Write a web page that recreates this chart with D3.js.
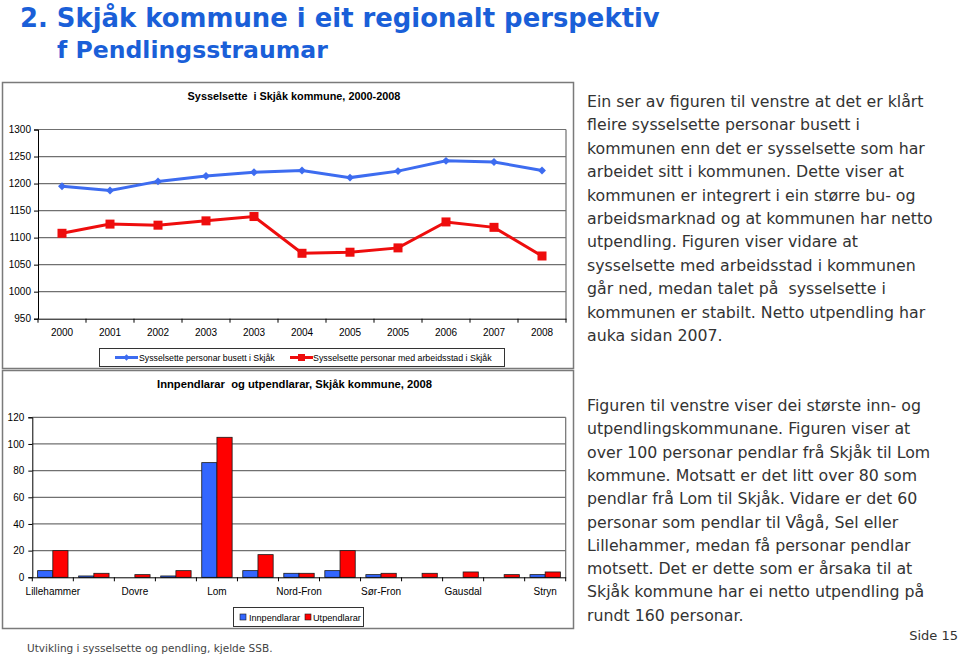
<!DOCTYPE html>
<html><head><meta charset="utf-8">
<script src="https://cdn.jsdelivr.net/npm/d3@7"></script>
<style>body{margin:0;background:#fff}svg{display:block}text{white-space:pre}</style>
</head><body>
<svg id="c" width="960" height="656"></svg>
<script>
// ---------- data ----------
const years = ["2000","2001","2002","2003","2003","2004","2005","2005","2006","2007","2008"];
const busett = [1195,1187,1204,1214,1221,1224,1211,1223,1242,1240,1224];
const arbeidsstad = [1108,1125,1123,1131,1139,1071,1073,1081,1129,1119,1066];
const lineTicks = [950,1000,1050,1100,1150,1200,1250,1300];
const lineSeriesNames = ["Sysselsette personar busett i Skjåk","Sysselsette personar med arbeidsstad i Skjåk"];

const kommunar = ["Lillehammer","Gjøvik","Dovre","Lesja","Lom","Vågå","Nord-Fron","Sel","Sør-Fron","Ringebu","Gausdal","Vang","Stryn"];
const shownLabels = ["Lillehammer","Dovre","Lom","Nord-Fron","Sør-Fron","Gausdal","Stryn"];
const innpendlarar = [5,1,0,1,86,5,3,5,2,0,0,0,2];
const utpendlarar = [20,3,2,5,105,17,3,20,3,3,4,2,4];
const barTicks = [0,20,40,60,80,100,120];
const barSeriesNames = ["Innpendlarar","Utpendlarar"];

const text1 = ["Ein ser av figuren til venstre at det er klårt","fleire sysselsette personar busett i","kommunen enn det er sysselsette som har","arbeidet sitt i kommunen. Dette viser at","kommunen er integrert i ein større bu- og","arbeidsmarknad og at kommunen har netto","utpendling. Figuren viser vidare at","sysselsette med arbeidsstad i kommunen","går ned, medan talet på  sysselsette i","kommunen er stabilt. Netto utpendling har","auka sidan 2007."];
const text2 = ["Figuren til venstre viser dei største inn- og","utpendlingskommunane. Figuren viser at","over 100 personar pendlar frå Skjåk til Lom","kommune. Motsatt er det litt over 80 som","pendlar frå Lom til Skjåk. Vidare er det 60","personar som pendlar til Vågå, Sel eller","Lillehammer, medan få personar pendlar","motsett. Det er dette som er årsaka til at","Skjåk kommune har ei netto utpendling på","rundt 160 personar."];

// ---------- helpers ----------
const svg = d3.select("#c");
const SANS = "'Liberation Sans', Arial, sans-serif";
const VERD = "'DejaVu Sans', Verdana, sans-serif";
function fit(sel, target){
  const w = sel.node().getComputedTextLength();
  const fs = parseFloat(sel.attr("font-size"));
  sel.attr("font-size", fs*target/w);
  return sel;
}

// ---------- headline ----------
const blue = "#1a5fd8";
fit(svg.append("text").attr("x",20).attr("y",27).attr("font-family",VERD).attr("font-weight","bold")
  .attr("font-size",24).attr("fill",blue).text("2. Skjåk kommune i eit regionalt perspektiv"), 640);
fit(svg.append("text").attr("x",57).attr("y",58).attr("font-family",VERD).attr("font-weight","bold")
  .attr("font-size",24).attr("fill",blue).text("f Pendlingsstraumar"), 271);

// ---------- right texts ----------
const g1 = svg.append("g");
g1.selectAll("text").data(text1).join("text")
  .attr("x",587).attr("y",(d,i)=>107+i*23.4).attr("font-family",VERD).attr("font-size",14.5)
  .attr("fill","#333").text(d=>d);
fit(g1.select("text"), 337);
const fs1 = g1.select("text").attr("font-size");
g1.selectAll("text").attr("font-size",fs1);

const g2 = svg.append("g");
g2.selectAll("text").data(text2).join("text")
  .attr("x",587).attr("y",(d,i)=>411+i*23.3).attr("font-family",VERD).attr("font-size",fs1)
  .attr("fill","#333").text(d=>d);

svg.append("text").attr("x",958).attr("y",640).attr("text-anchor","end").attr("font-family",VERD)
  .attr("font-size",13).attr("fill","#333").text("Side 15");
fit(svg.append("text").attr("x",27).attr("y",652).attr("font-family",VERD).attr("font-size",11.5)
  .attr("fill","#444").text("Utvikling i sysselsette og pendling, kjelde SSB."), 246);

// ---------- top line chart ----------
svg.append("rect").attr("x",2.5).attr("y",82.5).attr("width",571).attr("height",286)
  .attr("fill","none").attr("stroke","#7a7a7a").attr("stroke-width",1.5);
fit(svg.append("text").attr("x",294).attr("y",100).attr("text-anchor","middle").attr("font-family",SANS)
  .attr("font-weight","bold").attr("font-size",11).text("Sysselsette  i Skjåk kommune, 2000-2008"), 213);

const lx = d3.scaleBand().domain(d3.range(years.length)).range([38,566]);
const ly = d3.scaleLinear().domain([950,1300]).range([318.7,129.5]);
const gl = svg.append("g");
gl.selectAll("line.grid").data(lineTicks.slice(1)).join("line")
  .attr("x1",38).attr("x2",566).attr("y1",d=>ly(d)).attr("y2",d=>ly(d))
  .attr("stroke","#707070").attr("stroke-width",1.2);
gl.append("line").attr("x1",566).attr("x2",566).attr("y1",ly(1300)).attr("y2",ly(950)).attr("stroke","#707070").attr("stroke-width",1.2);
const yAx = gl.append("g").attr("transform","translate(38,0)")
  .call(d3.axisLeft(ly).tickValues(lineTicks).tickFormat(d3.format("d")).tickSize(4).tickPadding(3));
yAx.selectAll("text").attr("font-family",SANS).attr("font-size",10).attr("fill","#000");
const xAx = gl.append("g").attr("transform",`translate(0,${ly(950)})`)
  .call(d3.axisBottom(lx).tickSize(0).tickPadding(10).tickFormat(i=>years[i]));
xAx.selectAll("text").attr("font-family",SANS).attr("font-size",10).attr("fill","#000");
xAx.select(".domain").attr("stroke","#000");
yAx.select(".domain").attr("stroke","#000");
gl.selectAll("line.xt").data(d3.range(years.length+1)).join("line").attr("class","xt")
  .attr("x1",i=>38+i*lx.step()).attr("x2",i=>38+i*lx.step()).attr("y1",ly(950)).attr("y2",ly(950)+4)
  .attr("stroke","#000");

const cx = i=>lx(i)+lx.bandwidth()/2;
const lineGen = d3.line().x((d,i)=>cx(i)).y(d=>ly(d));
const cBlue = "#3d6cf0", cRed = "#ee0d0d";
gl.append("path").datum(busett).attr("d",lineGen).attr("fill","none").attr("stroke",cBlue).attr("stroke-width",3);
gl.append("path").datum(arbeidsstad).attr("d",lineGen).attr("fill","none").attr("stroke",cRed).attr("stroke-width",3);
gl.selectAll("path.dia").data(busett).join("path").attr("class","dia")
  .attr("d",d3.symbol(d3.symbolDiamond2,40)())
  .attr("transform",(d,i)=>`translate(${cx(i)},${ly(d)})`).attr("fill",cBlue);
gl.selectAll("rect.sq").data(arbeidsstad).join("rect").attr("class","sq")
  .attr("x",(d,i)=>cx(i)-4.5).attr("y",d=>ly(d)-4.5).attr("width",9).attr("height",9).attr("fill",cRed);

// legend top
svg.append("rect").attr("x",99.5).attr("y",348.5).attr("width",405).attr("height",18)
  .attr("fill","#fff").attr("stroke","#333").attr("stroke-width",1);
const lg = svg.append("g");
lg.append("line").attr("x1",115).attr("x2",138).attr("y1",357.5).attr("y2",357.5).attr("stroke",cBlue).attr("stroke-width",3);
lg.append("path").attr("d",d3.symbol(d3.symbolDiamond2,25)()).attr("transform","translate(126.5,357.5)").attr("fill",cBlue);
fit(lg.append("text").attr("x",139).attr("y",360.5).attr("font-family",SANS).attr("font-size",8.5).text(lineSeriesNames[0]),136);
lg.append("line").attr("x1",290).attr("x2",313).attr("y1",357.5).attr("y2",357.5).attr("stroke",cRed).attr("stroke-width",3);
lg.append("rect").attr("x",298).attr("y",354).attr("width",7).attr("height",7).attr("fill",cRed);
fit(lg.append("text").attr("x",313).attr("y",360.5).attr("font-family",SANS).attr("font-size",8.5).text(lineSeriesNames[1]),179);

// ---------- bottom bar chart ----------
svg.append("rect").attr("x",2.5).attr("y",370.5).attr("width",571).attr("height",258)
  .attr("fill","none").attr("stroke","#7a7a7a").attr("stroke-width",1.5);
fit(svg.append("text").attr("x",294.5).attr("y",388).attr("text-anchor","middle").attr("font-family",SANS)
  .attr("font-weight","bold").attr("font-size",11).text("Innpendlarar  og utpendlarar, Skjåk kommune, 2008"), 275);

const bx = d3.scaleBand().domain(d3.range(kommunar.length)).range([32.3,565.7]);
const by = d3.scaleLinear().domain([0,120]).range([577.3,417.3]);
const gb = svg.append("g");
gb.selectAll("line.grid").data(barTicks.slice(1)).join("line")
  .attr("x1",32.3).attr("x2",565.7).attr("y1",d=>by(d)).attr("y2",d=>by(d))
  .attr("stroke","#707070").attr("stroke-width",1.2);
gb.append("line").attr("x1",565.7).attr("x2",565.7).attr("y1",by(120)).attr("y2",by(0)).attr("stroke","#707070").attr("stroke-width",1.2);
const byAx = gb.append("g").attr("transform","translate(32.3,0)")
  .call(d3.axisLeft(by).tickValues(barTicks).tickFormat(d3.format("d")).tickSize(4).tickPadding(4));
byAx.selectAll("text").attr("font-family",SANS).attr("font-size",10).attr("fill","#000");

const inner = d3.scaleBand().domain([0,1]).range([0,bx.bandwidth()]).paddingOuter(0.35).paddingInner(0);
const bars = gb.append("g");
bars.selectAll("rect.in").data(innpendlarar).join("rect").attr("class","in")
  .attr("x",(d,i)=>bx(i)+inner(0)).attr("width",inner.bandwidth())
  .attr("y",d=>by(d)).attr("height",d=>by(0)-by(d))
  .attr("fill","#3366ff").attr("stroke","#1a1a1a").attr("stroke-width",d=>d>0?0.8:0);
bars.selectAll("rect.out").data(utpendlarar).join("rect").attr("class","out")
  .attr("x",(d,i)=>bx(i)+inner(1)).attr("width",inner.bandwidth())
  .attr("y",d=>by(d)).attr("height",d=>by(0)-by(d))
  .attr("fill","#ff0000").attr("stroke","#1a1a1a").attr("stroke-width",d=>d>0?0.8:0);

const bxAx = gb.append("g").attr("transform",`translate(0,${by(0)})`)
  .call(d3.axisBottom(bx).tickSize(0).tickPadding(11).tickFormat(i=>shownLabels.includes(kommunar[i])?kommunar[i]:""));
bxAx.selectAll("text").attr("font-family",SANS).attr("font-size",10).attr("fill","#000");
bxAx.select(".domain").attr("stroke","#000");
byAx.select(".domain").attr("stroke","#000");
gb.selectAll("line.xt").data(d3.range(kommunar.length+1)).join("line").attr("class","xt")
  .attr("x1",i=>32.3+i*bx.step()).attr("x2",i=>32.3+i*bx.step()).attr("y1",by(0)).attr("y2",by(0)+4)
  .attr("stroke","#000");

// legend bottom
svg.append("rect").attr("x",233.5).attr("y",607.5).attr("width",130).attr("height",19)
  .attr("fill","#fff").attr("stroke","#333").attr("stroke-width",1);
svg.append("rect").attr("x",240).attr("y",614).attr("width",6).attr("height",6).attr("fill","#3366ff").attr("stroke","#1a1a1a").attr("stroke-width",0.6);
fit(svg.append("text").attr("x",249).attr("y",620.5).attr("font-family",SANS).attr("font-size",9).text(barSeriesNames[0]),51);
svg.append("rect").attr("x",305).attr("y",614).attr("width",6).attr("height",6).attr("fill","#ff0000").attr("stroke","#1a1a1a").attr("stroke-width",0.6);
fit(svg.append("text").attr("x",313).attr("y",620.5).attr("font-family",SANS).attr("font-size",9).text(barSeriesNames[1]),48);
</script>
</body></html>
